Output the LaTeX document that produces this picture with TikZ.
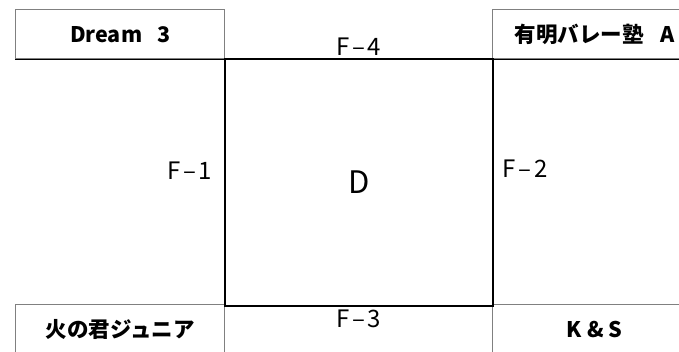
\documentclass[tikz,border=0pt]{standalone}
\usepackage{fontspec}
\setmainfont{Noto Sans CJK JP}
\usepackage{tikz}
\usetikzlibrary{positioning}
\definecolor{boxgray}{RGB}{128,128,128}

\newcommand{\fname}[1]{F\hspace{.12em}–\hspace{.1em}#1}

\begin{document}
\begin{tikzpicture}[
    x=1pt, y=-1pt,
    teambox/.style={rectangle, draw=boxgray, line width=1.3pt, anchor=north west,
        inner sep=0pt, font=\fontsize{21.5}{24}\selectfont\bfseries},
    courtbox/.style={rectangle, draw=black, line width=1.5pt, anchor=north west,
        minimum width=268pt, minimum height=247pt, inner sep=0pt,
        font=\fontsize{31}{34}\selectfont},
    flabel/.style={inner sep=2pt, font=\fontsize{24}{26}\selectfont}
]
\useasboundingbox (0,0) rectangle (679,351);
\clip (0,0) rectangle (679,351);

% === TEAMS IN THE CORNERS ===
\node[teambox, minimum width=209pt, minimum height=49pt] (dream) at (15,9) {Dream\hspace{15pt}3};
\node[teambox, minimum width=204pt, minimum height=49pt] (ariake) at (492,9) {有明バレー塾\hspace{17pt}A};
\node[teambox, minimum width=209pt, minimum height=50pt] (hinokimi) at (15,304) {火の君ジュニア};
\node[teambox, minimum width=204pt, minimum height=50pt] (ks) at (492,304) {K \& S};

% === COURT ===
\draw[line width=1.5pt] (dream.south west) -- (ariake.south east);
\node[courtbox] (court) at (224,58) {D};

% === SIDE LABELS ===
\node[flabel, above=0pt of court.north] (f4) {\fname{4}};
\node[flabel, below=1pt of court.south] (f3) {\fname{3}};
\node[flabel, left=10pt of court.west, yshift=12pt] (f1) {\fname{1}};
\node[flabel, right=7pt of court.east, yshift=14pt] (f2) {\fname{2}};

\end{tikzpicture}
\end{document}
